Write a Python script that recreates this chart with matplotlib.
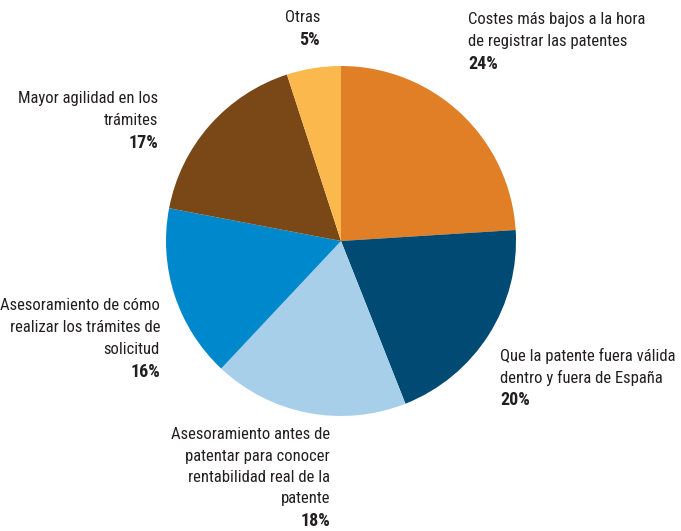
import matplotlib
matplotlib.use("Agg")
import matplotlib.pyplot as plt
from matplotlib import font_manager

# ---- data ---------------------------------------------------------------------
labels = [
    "Costes más bajos a la hora\nde registrar las patentes",
    "Que la patente fuera válida\ndentro y fuera de España",
    "Asesoramiento antes de\npatentar para conocer\nrentabilidad real de la\npatente",
    "Asesoramiento de cómo\nrealizar los trámites de\nsolicitud",
    "Mayor agilidad en los\ntrámites",
    "Otras",
]
values = [24, 20, 18, 16, 17, 5]
colors = ["#E07F26", "#004A74", "#A8CFEA", "#0088CC", "#7A4716", "#FBB94D"]

# label anchor (pixel x, pixel y of first line top, alignment)
label_pos = [(468, 12, "left"), (500, 348, "left"), (330, 427, "right"),
             (160, 298, "right"), (158, 91, "right"), (320, 10, "right")]

W, H = 681, 531
installed = {f.name for f in font_manager.fontManager.ttflist}
family = [f for f in ["Roboto Condensed", "PT Sans Narrow", "Liberation Sans"] if f in installed]
plt.rcParams["font.family"] = family + ["DejaVu Sans"]
TXT = "#231f20"

fig = plt.figure(figsize=(W / 100, H / 100), dpi=100)
cx, cy, r = 341, 241, 175
ax = fig.add_axes([(cx - r) / W, (H - cy - r) / H, 2 * r / W, 2 * r / H])
ax.pie(values, colors=colors, startangle=90, counterclock=False, radius=1,
       wedgeprops=dict(linewidth=0))
ax.set_xlim(-1, 1)
ax.set_ylim(-1, 1)
ax.set_aspect("equal")
ax.axis("off")

for lab, val, (px, py, ha) in zip(labels, values, label_pos):
    n = lab.count("\n") + 1
    step = 21.5 if n > 3 else 22
    for i, line in enumerate(lab.split("\n")):
        fig.text(px / W, 1 - (py + i * step) / H, line, ha=ha, va="top",
                 fontsize=12, color=TXT)
    fig.text(px / W, 1 - (py + n * step - 1) / H, f"{val}%", ha=ha, va="top",
             fontsize=13, color=TXT, fontweight="bold")

fig.savefig("out.png", dpi=100)
